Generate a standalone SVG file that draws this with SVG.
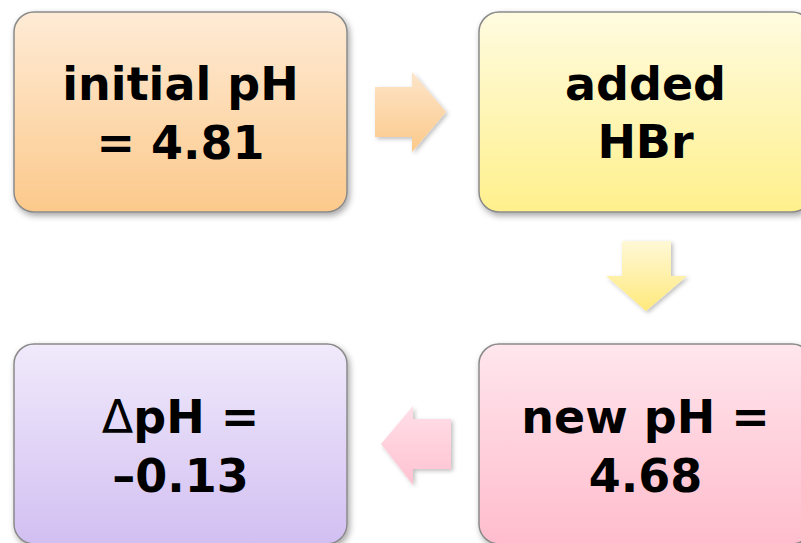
<svg xmlns="http://www.w3.org/2000/svg" width="801" height="543" viewBox="0 0 801 543">
  <defs>
    <linearGradient id="gOrange" x1="0" y1="0" x2="0" y2="1">
      <stop offset="0" stop-color="#feebd6"/>
      <stop offset="1" stop-color="#fcc98b"/>
    </linearGradient>
    <linearGradient id="gYellow" x1="0" y1="0" x2="0" y2="1">
      <stop offset="0" stop-color="#fffbe0"/>
      <stop offset="1" stop-color="#fff08c"/>
    </linearGradient>
    <linearGradient id="gPurple" x1="0" y1="0" x2="0" y2="1">
      <stop offset="0" stop-color="#f0eafb"/>
      <stop offset="1" stop-color="#d2bff2"/>
    </linearGradient>
    <linearGradient id="gPink" x1="0" y1="0" x2="0" y2="1">
      <stop offset="0" stop-color="#ffe6ed"/>
      <stop offset="1" stop-color="#ffbccc"/>
    </linearGradient>
    <linearGradient id="aOrange" x1="0" y1="0" x2="0" y2="1">
      <stop offset="0" stop-color="#fde5c9"/>
      <stop offset="1" stop-color="#fcc98a"/>
    </linearGradient>
    <linearGradient id="aYellow" x1="0" y1="0" x2="0" y2="1">
      <stop offset="0" stop-color="#fff8d6"/>
      <stop offset="1" stop-color="#ffe97c"/>
    </linearGradient>
    <linearGradient id="aPink" x1="0" y1="0" x2="0" y2="1">
      <stop offset="0" stop-color="#ffdfe8"/>
      <stop offset="1" stop-color="#ffc2d1"/>
    </linearGradient>
    <filter id="shadow" x="-10%" y="-10%" width="125%" height="130%">
      <feDropShadow dx="2" dy="3" stdDeviation="3" flood-color="#000" flood-opacity="0.35"/>
    </filter>
    <filter id="ashadow" x="-20%" y="-20%" width="150%" height="150%">
      <feDropShadow dx="2" dy="2" stdDeviation="2" flood-color="#000" flood-opacity="0.25"/>
    </filter>
  </defs>
  <style>
    .box { stroke: #8a8a8a; stroke-width: 1.5; filter: url(#shadow); }
    .label { font-family: "DejaVu Sans", sans-serif; font-weight: bold; font-size: 46px; fill: #000; text-anchor: middle; }
    .sym { font-weight: normal; }
    .arrow { filter: url(#ashadow); }
  </style>
  <rect width="801" height="543" fill="#ffffff"/>

  <!-- connectors -->
  <g id="connectors">
    <polygon class="arrow" fill="url(#aOrange)" points="375,87 412,87 412,72 446,112 412,152 412,137 375,137"/>
    <polygon class="arrow" fill="url(#aYellow)" points="622,241 671,241 671,276 687,276 646,311 606,276 622,276"/>
    <polygon class="arrow" fill="url(#aPink)" points="451,419 413,419 413,406 381,444 413,485 413,469 451,469"/>
  </g>

  <g id="node-initial">
    <rect class="box" x="14" y="12" width="333" height="200" rx="20" fill="url(#gOrange)"/>
    <text class="label" x="180.5" y="100">initial pH</text>
    <text class="label" x="180.5" y="159">= 4.81</text>
  </g>

  <g id="node-added">
    <rect class="box" x="479" y="12" width="333" height="200" rx="20" fill="url(#gYellow)"/>
    <text class="label" x="645.5" y="100">added</text>
    <text class="label" x="645.5" y="158">HBr</text>
  </g>

  <g id="node-new">
    <rect class="box" x="479" y="344" width="333" height="200" rx="20" fill="url(#gPink)"/>
    <text class="label" x="645.5" y="433">new pH =</text>
    <text class="label" x="645.5" y="492">4.68</text>
  </g>

  <g id="node-delta">
    <rect class="box" x="14" y="344" width="333" height="200" rx="20" fill="url(#gPurple)"/>
    <text class="label" x="180.5" y="433"><tspan class="sym">Δ</tspan>pH =</text>
    <text class="label" x="180.5" y="492">–0.13</text>
  </g>
</svg>
